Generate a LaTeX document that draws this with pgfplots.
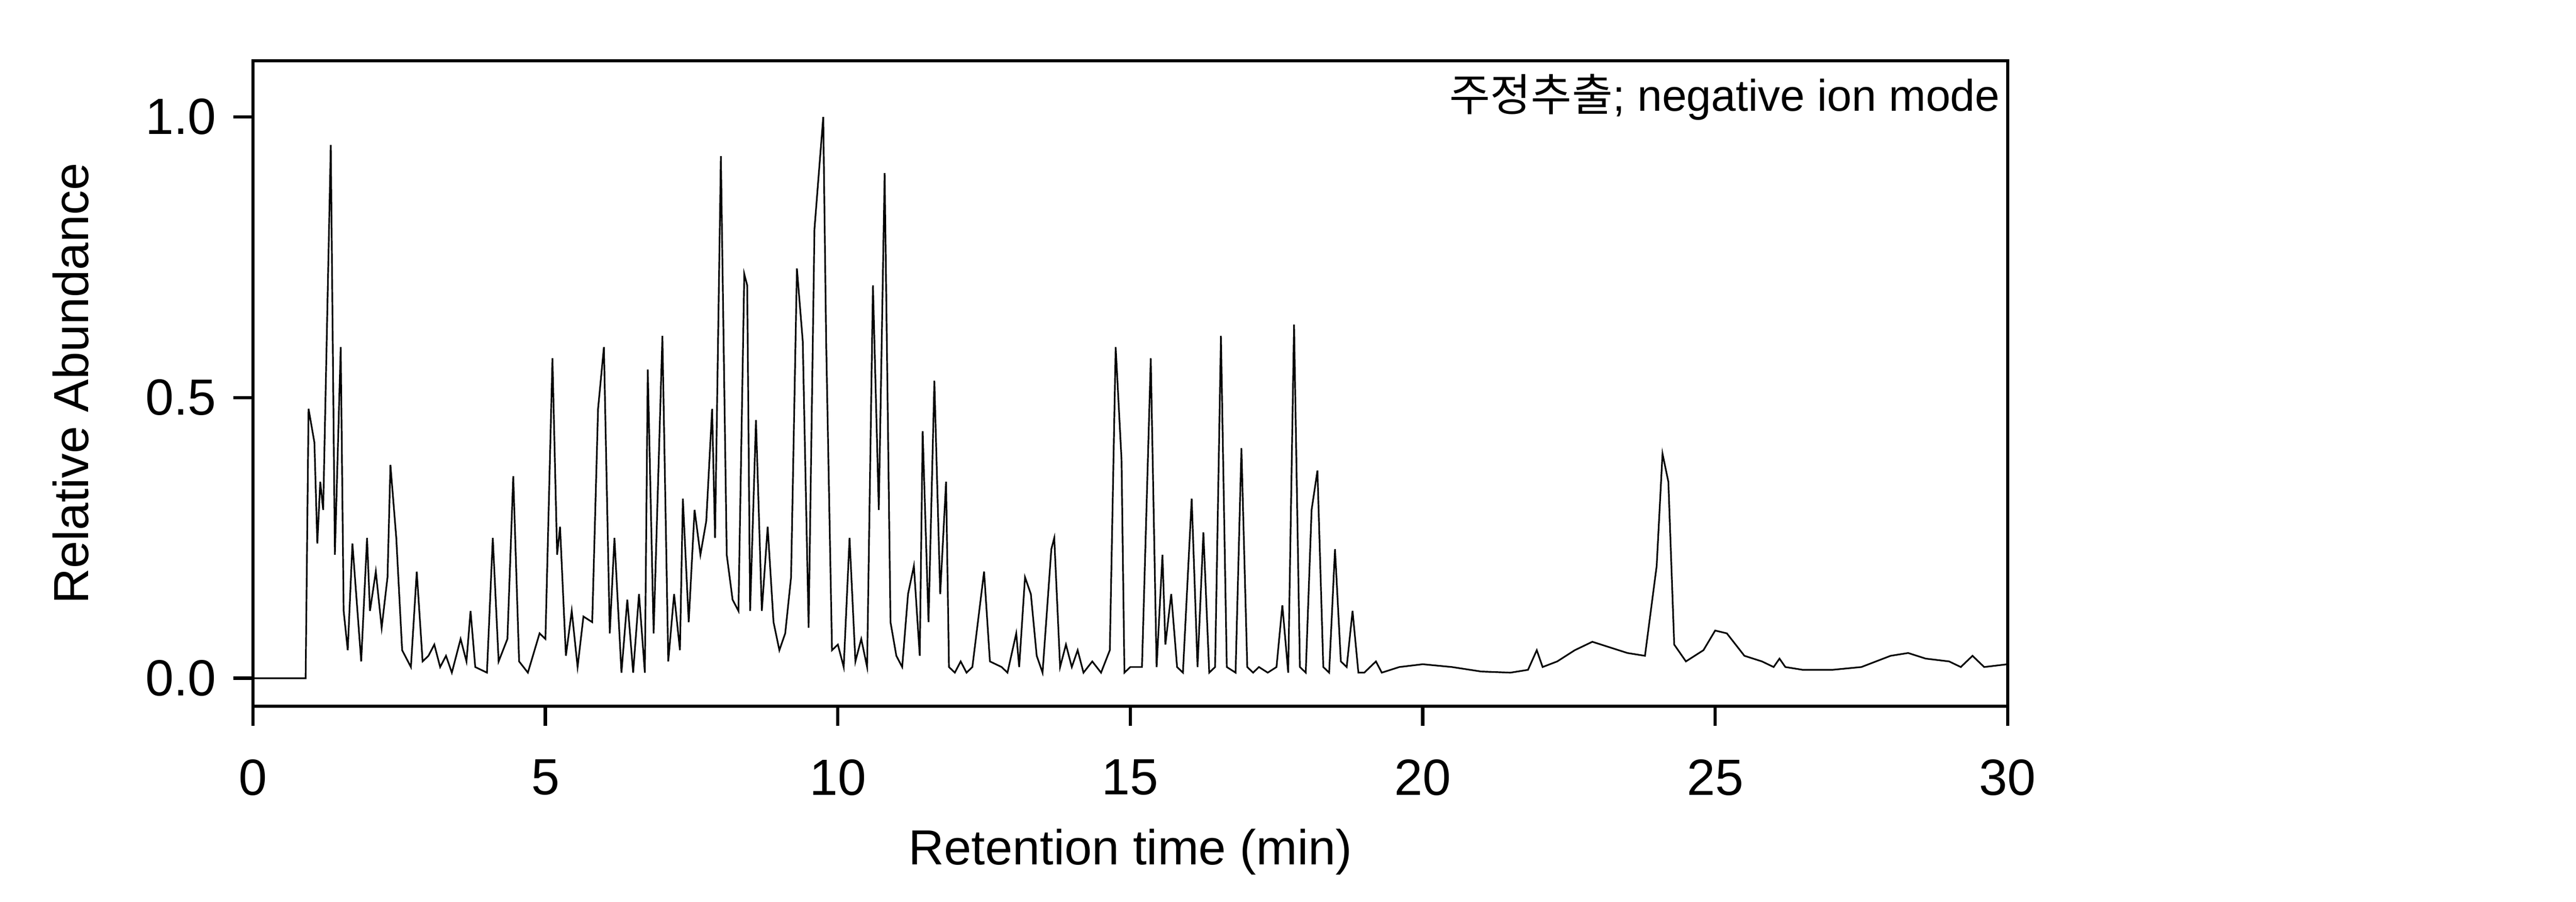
\documentclass[border=0pt]{standalone}
\usepackage{fontspec}
\setmainfont{Liberation Sans}
\newfontfamily\kr{Noto Sans CJK KR}
\usepackage{pgfplots}
\pgfplotsset{compat=1.18}
\begin{document}
\fontsize{15}{18}\selectfont
\begin{tikzpicture}
\useasboundingbox (-77pt,-59.5pt) rectangle (707pt,215pt);
\begin{axis}[at={(0,0)},anchor=south west,scale only axis,width=534pt,height=196.5pt,
xmin=0,xmax=30,ymin=-0.05,ymax=1.10,
xtick={0,5,...,30},ytick={0,0.5,1},
axis line style={line width=1pt},
tick style={line width=1pt,black},
tick align=outside,xtick pos=bottom,ytick pos=left,
major tick length=6pt,
/pgf/number format/assume math mode=true,
yticklabel style={/pgf/number format/fixed,/pgf/number format/fixed zerofill,/pgf/number format/precision=1},
xticklabel style={yshift=-5pt},
xlabel={Retention time (min)},ylabel={Relative Abundance},
xlabel style={yshift=0pt},ylabel style={yshift=7pt},
tick label style={font=\fontsize{15.5}{18}\selectfont},
label style={font=\fontsize{15}{18}\selectfont},
]
\addplot[black,line width=0.5pt] coordinates {
(0,0)(0.9,0.0)(0.95,0.48)(1.05,0.42)(1.1,0.24)(1.15,0.35)(1.2,0.30)(1.33,0.95)(1.4,0.22)(1.5,0.59)(1.55,0.12)(1.62,0.05)(1.7,0.24)(1.8,0.10)(1.85,0.03)(1.95,0.25)(2.0,0.12)(2.1,0.19)(2.2,0.09)(2.3,0.18)(2.35,0.38)(2.45,0.25)(2.55,0.05)(2.7,0.02)(2.8,0.19)(2.9,0.03)(3.0,0.04)(3.1,0.06)(3.2,0.02)(3.3,0.04)(3.4,0.01)(3.55,0.07)(3.65,0.03)(3.72,0.12)(3.8,0.02)(4.0,0.01)(4.1,0.25)(4.2,0.03)(4.35,0.07)(4.45,0.36)(4.55,0.03)(4.7,0.01)(4.9,0.08)(5.0,0.07)(5.12,0.57)(5.2,0.22)(5.25,0.27)(5.35,0.04)(5.45,0.12)(5.55,0.02)(5.65,0.11)(5.8,0.10)(5.9,0.48)(6.0,0.59)(6.1,0.08)(6.18,0.25)(6.3,0.01)(6.4,0.14)(6.5,0.01)(6.6,0.15)(6.7,0.01)(6.75,0.55)(6.85,0.08)(7.0,0.61)(7.1,0.03)(7.2,0.15)(7.3,0.05)(7.35,0.32)(7.45,0.10)(7.55,0.30)(7.65,0.22)(7.75,0.28)(7.85,0.48)(7.9,0.25)(8.0,0.93)(8.1,0.22)(8.2,0.14)(8.3,0.12)(8.4,0.72)(8.45,0.70)(8.5,0.12)(8.6,0.46)(8.7,0.12)(8.8,0.27)(8.9,0.10)(9.0,0.05)(9.1,0.08)(9.2,0.18)(9.3,0.73)(9.4,0.60)(9.5,0.09)(9.6,0.80)(9.75,1.00)(9.8,0.60)(9.9,0.05)(10.0,0.06)(10.1,0.02)(10.2,0.25)(10.3,0.03)(10.4,0.07)(10.5,0.02)(10.6,0.70)(10.7,0.30)(10.8,0.90)(10.9,0.10)(11.0,0.04)(11.1,0.02)(11.2,0.15)(11.3,0.20)(11.4,0.04)(11.45,0.44)(11.55,0.10)(11.65,0.53)(11.75,0.15)(11.85,0.35)(11.9,0.02)(12.0,0.01)(12.1,0.03)(12.2,0.01)(12.3,0.02)(12.5,0.19)(12.6,0.03)(12.8,0.02)(12.9,0.01)(13.05,0.08)(13.1,0.02)(13.2,0.18)(13.3,0.15)(13.4,0.04)(13.5,0.01)(13.65,0.23)(13.7,0.25)(13.8,0.02)(13.9,0.06)(14.0,0.02)(14.1,0.05)(14.2,0.01)(14.35,0.03)(14.5,0.01)(14.65,0.05)(14.75,0.59)(14.85,0.39)(14.9,0.01)(15.0,0.02)(15.2,0.02)(15.35,0.57)(15.45,0.02)(15.55,0.22)(15.6,0.06)(15.7,0.15)(15.8,0.02)(15.9,0.01)(16.05,0.32)(16.15,0.02)(16.25,0.26)(16.35,0.01)(16.45,0.02)(16.55,0.61)(16.65,0.02)(16.8,0.01)(16.9,0.41)(17.0,0.02)(17.1,0.01)(17.2,0.02)(17.35,0.01)(17.5,0.02)(17.6,0.13)(17.7,0.01)(17.8,0.63)(17.9,0.02)(18.0,0.01)(18.1,0.30)(18.2,0.37)(18.3,0.02)(18.4,0.01)(18.5,0.23)(18.6,0.03)(18.7,0.02)(18.8,0.12)(18.9,0.01)(19.0,0.01)(19.2,0.03)(19.3,0.01)(19.6,0.02)(20.0,0.025)(20.5,0.02)(21.0,0.012)(21.5,0.01)(21.8,0.015)(21.95,0.05)(22.05,0.02)(22.3,0.03)(22.6,0.05)(22.9,0.065)(23.2,0.055)(23.5,0.045)(23.8,0.04)(24.0,0.2)(24.1,0.40)(24.2,0.35)(24.3,0.06)(24.5,0.03)(24.8,0.05)(25.0,0.085)(25.2,0.08)(25.5,0.04)(25.8,0.03)(26.0,0.02)(26.1,0.035)(26.2,0.02)(26.5,0.015)(27.0,0.015)(27.5,0.02)(28.0,0.04)(28.3,0.045)(28.6,0.035)(29.0,0.03)(29.2,0.02)(29.4,0.04)(29.6,0.02)(30,0.025)
};
\node[anchor=north east,inner sep=0pt,font=\fontsize{13.5}{16}\selectfont] at (rel axis cs:0.996,0.98) {{\kr 주정추출}; negative ion mode};
\end{axis}
\end{tikzpicture}
\end{document}
